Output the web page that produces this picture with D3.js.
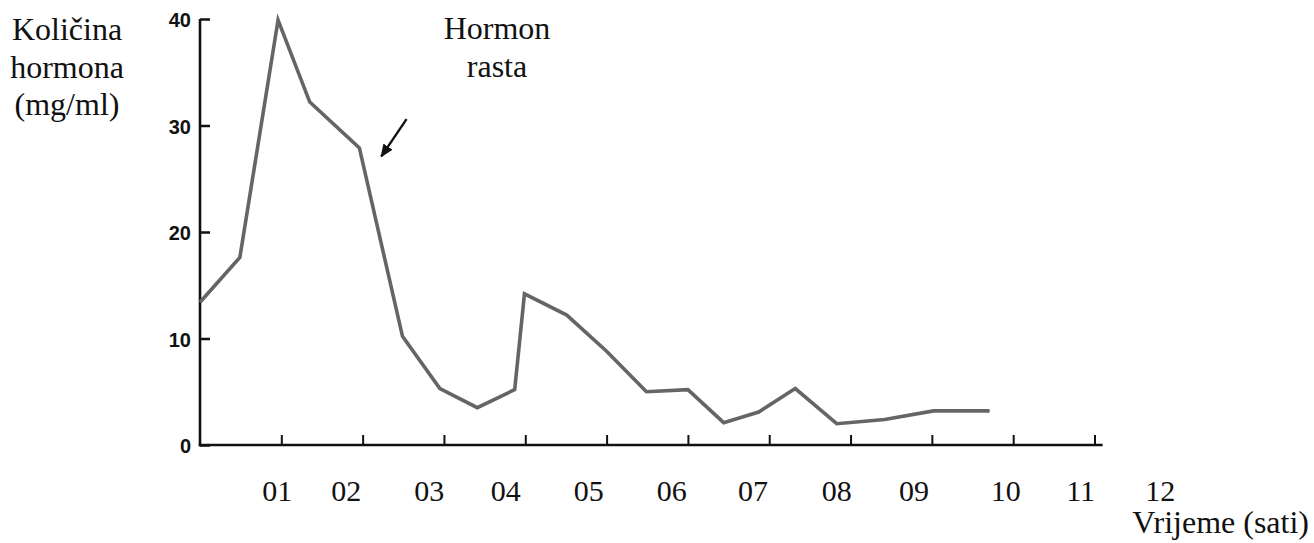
<!DOCTYPE html>
<html>
<head>
<meta charset="utf-8">
<script src="https://cdn.jsdelivr.net/npm/d3@7"></script>
<style>
  html, body { margin: 0; padding: 0; background: #ffffff; }
  svg { display: block; }
</style>
</head>
<body>
<div id="chart"></div>
<script>
// ---- Data ----
const hours  = [0, 0.49, 0.96, 1.35, 1.96, 2.49, 2.95, 3.41, 3.87, 3.99, 4.51, 5.0, 5.49, 6.0, 6.44, 6.87, 7.32, 7.83, 8.42, 9.02, 9.71];
const values = [13.4, 17.6, 39.9, 32.2, 27.9, 10.2, 5.3, 3.5, 5.2, 14.2, 12.2, 8.8, 5.0, 5.2, 2.1, 3.1, 5.3, 2.0, 2.4, 3.2, 3.2];
const yTicks = [0, 10, 20, 30, 40];
const xTicks = [1, 2, 3, 4, 5, 6, 7, 8, 9, 10, 11];
const xLabels = ["01", "02", "03", "04", "05", "06", "07", "08", "09", "10", "11", "12"];
const xLabelPos = [0.95, 1.80, 2.82, 3.76, 4.78, 5.80, 6.80, 7.83, 8.78, 9.91, 10.83, 11.81];
const yTitle = ["Količina", "hormona", "(mg/ml)"];
const seriesTitle = ["Hormon", "rasta"];
const xTitle = "Vrijeme (sati)";
const arrowFrom = [2.54, 30.6];
const arrowTo = [2.23, 27.1];

// ---- Layout ----
const W = 1314, H = 543;
const svg = d3.select("#chart").append("svg").attr("width", W).attr("height", H);

const x = d3.scaleLinear().domain([0, 11]).range([200, 1094.5]);
const y = d3.scaleLinear().domain([0, 40]).range([445, 19]);

const serif = "'Liberation Serif', 'Times New Roman', serif";
const sans = "'Liberation Sans', Arial, Helvetica, sans-serif";

// Y axis (ticks pointing inward)
const yAxis = svg.append("g").attr("transform", `translate(${x(0)},0)`)
  .call(d3.axisRight(y).tickValues(yTicks).tickSize(10).tickFormat(""));
yAxis.select(".domain").remove();
yAxis.selectAll(".tick line").attr("stroke", "#111").attr("stroke-width", 2.5);
svg.append("line")
  .attr("x1", x(0)).attr("x2", x(0))
  .attr("y1", y(40)).attr("y2", y(0) + 1.2)
  .attr("stroke", "#111").attr("stroke-width", 2.6);

svg.append("g").selectAll("text").data(yTicks).join("text")
  .attr("x", x(0) - 9).attr("y", d => y(d) + 8)
  .attr("text-anchor", "end")
  .attr("font-family", sans).attr("font-weight", "bold").attr("font-size", 20)
  .attr("fill", "#111")
  .text(d => d);

// X axis (ticks pointing upward)
const xAxis = svg.append("g").attr("transform", `translate(0,${y(0)})`)
  .call(d3.axisTop(x).tickValues(xTicks).tickSize(10).tickFormat(""));
xAxis.select(".domain").remove();
xAxis.selectAll(".tick line").attr("stroke", "#111").attr("stroke-width", 2);
svg.append("line")
  .attr("x1", x(0) - 1.2).attr("x2", x(11.1))
  .attr("y1", y(0)).attr("y2", y(0))
  .attr("stroke", "#111").attr("stroke-width", 2.6);

svg.append("g").selectAll("text").data(xLabels).join("text")
  .attr("x", (d, i) => x(xLabelPos[i])).attr("y", 501)
  .attr("text-anchor", "middle")
  .attr("font-family", serif).attr("font-size", 30)
  .attr("fill", "#111")
  .text(d => d);

// Data line
const pts = hours.map((h, i) => [h, values[i]]);
svg.append("path")
  .datum(pts)
  .attr("fill", "none")
  .attr("stroke", "#656565")
  .attr("stroke-width", 3.6)
  .attr("stroke-linejoin", "miter")
  .attr("d", d3.line().x(d => x(d[0])).y(d => y(d[1])));

// Arrow annotation
const defs = svg.append("defs");
defs.append("marker")
  .attr("id", "ah").attr("viewBox", "0 0 10 10")
  .attr("refX", 9).attr("refY", 5)
  .attr("markerWidth", 5.5).attr("markerHeight", 5.5)
  .attr("markerUnits", "strokeWidth")
  .attr("orient", "auto")
  .append("path").attr("d", "M0,0.8 L10,5 L0,9.2 Z").attr("fill", "#111");
svg.append("line")
  .attr("x1", x(arrowFrom[0])).attr("y1", y(arrowFrom[1]))
  .attr("x2", x(arrowTo[0])).attr("y2", y(arrowTo[1]))
  .attr("stroke", "#111").attr("stroke-width", 2.4)
  .attr("marker-end", "url(#ah)");

// Titles
svg.append("g").selectAll("text").data(yTitle).join("text")
  .attr("x", 67).attr("y", (d, i) => 40 + i * 37.5)
  .attr("text-anchor", "middle")
  .attr("font-family", serif).attr("font-size", 32)
  .attr("fill", "#111")
  .text(d => d);

svg.append("g").selectAll("text").data(seriesTitle).join("text")
  .attr("x", 497).attr("y", (d, i) => 39 + i * 38)
  .attr("text-anchor", "middle")
  .attr("font-family", serif).attr("font-size", 32)
  .attr("fill", "#111")
  .text(d => d);

svg.append("text")
  .attr("x", 1309).attr("y", 533)
  .attr("text-anchor", "end")
  .attr("font-family", serif).attr("font-size", 32)
  .attr("fill", "#111")
  .text(xTitle);
</script>
</body>
</html>
